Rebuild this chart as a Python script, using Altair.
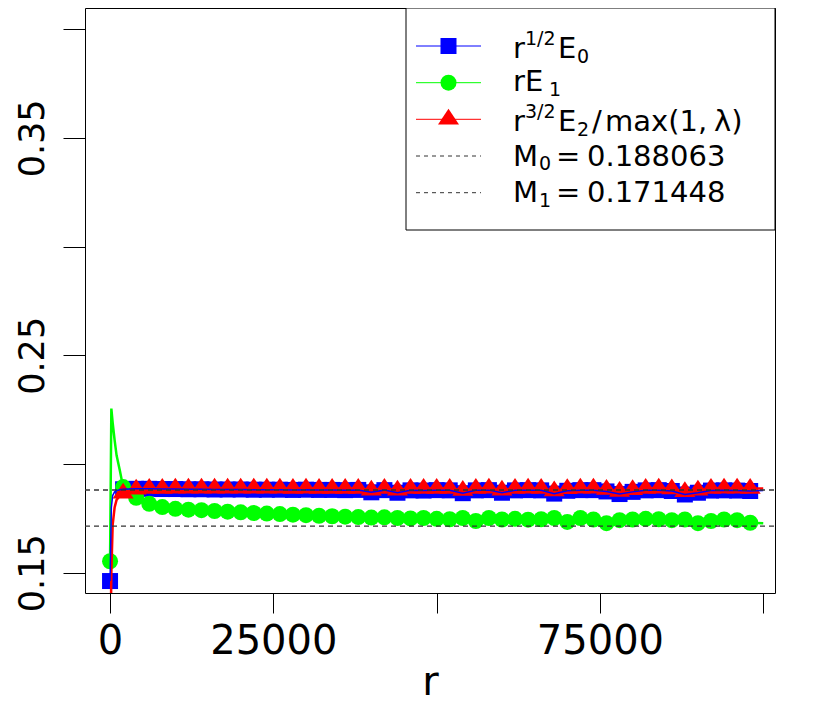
import altair as alt
import pandas as pd

# ---------------- data ----------------
r_early = [0, 200, 400, 700, 1000, 1500]
r_grid = list(range(2000, 100001, 2000))
r_vals = r_early + r_grid

blue_vals = [0.1462, 0.1800, 0.1855, 0.1872, 0.1878, 0.1882,
             0.1884, 0.1886, 0.1886, 0.1885, 0.1885, 0.1884, 0.1884, 0.1883, 0.1883, 0.1883,
             0.1882, 0.1882, 0.1882, 0.1881, 0.1882, 0.1881, 0.1881, 0.1880, 0.1881, 0.1870,
             0.1880, 0.1868, 0.1879, 0.1878, 0.1880, 0.1879, 0.1866, 0.1879, 0.1880, 0.1868,
             0.1879, 0.1880, 0.1879, 0.1864, 0.1877, 0.1880, 0.1880, 0.1874, 0.1862, 0.1872,
             0.1879, 0.1880, 0.1876, 0.1860, 0.1868, 0.1878, 0.1879, 0.1878, 0.1876, 0.1878]

green_vals = [0.1553, 0.2255, 0.2190, 0.2110, 0.2040, 0.1970,
              0.1894, 0.1845, 0.1817, 0.1802, 0.1794, 0.1790, 0.1788, 0.1784, 0.1781, 0.1778,
              0.1775, 0.1772, 0.1770, 0.1767, 0.1765, 0.1762, 0.1760, 0.1758, 0.1756, 0.1754,
              0.1755, 0.1752, 0.1750, 0.1752, 0.1748, 0.1746, 0.1752, 0.1738, 0.1752, 0.1745,
              0.1748, 0.1744, 0.1746, 0.1752, 0.1734, 0.1752, 0.1745, 0.1728, 0.1742, 0.1745,
              0.1748, 0.1746, 0.1742, 0.1745, 0.1728, 0.1738, 0.1745, 0.1742, 0.1730, 0.1728]

red_vals = [0.1000, 0.1500, 0.1720, 0.1800, 0.1835, 0.1855,
            0.1866, 0.1884, 0.1887, 0.1888, 0.1889, 0.1889, 0.1889, 0.1889, 0.1889, 0.1889,
            0.1889, 0.1889, 0.1889, 0.1888, 0.1889, 0.1888, 0.1888, 0.1888, 0.1888, 0.1880,
            0.1888, 0.1879, 0.1888, 0.1887, 0.1888, 0.1888, 0.1878, 0.1888, 0.1889, 0.1879,
            0.1888, 0.1889, 0.1888, 0.1876, 0.1886, 0.1889, 0.1889, 0.1883, 0.1874, 0.1882,
            0.1888, 0.1889, 0.1885, 0.1873, 0.1879, 0.1888, 0.1889, 0.1889, 0.1887, 0.1887]

M_vals = [0.188063, 0.171448]

x_ticks = [0, 25000, 50000, 75000, 100000]
x_shown = ["0", "25000", "75000"]
y_ticks = [0.15, 0.20, 0.25, 0.30, 0.35, 0.40]
y_shown = ["0.15", "0.25", "0.35"]

# ---------------- layout / style ----------------
W, H = 690, 585
OX, OY = 85, 7          # reference plot origin
FONT = "DejaVu Sans"
BLUE, GREEN, RED = "#0000FF", "#00FF00", "#FF0000"
TRI = "M0,-1L1,0.5L-1,0.5Z"
MARK_FILTER = "datum.r % 2000 == 0 && datum.r <= 98000"

x_scale = alt.Scale(domain=[-3834, 101800], nice=False, zero=False)
y_scale = alt.Scale(domain=[0.1407, 0.4097], nice=False, zero=False)

x_axis = alt.Axis(values=x_ticks, format="d",
                  labelExpr="indexof(" + str(x_shown) + ", datum.label) >= 0 ? datum.label : ''",
                  labelFont=FONT, labelFontSize=40, labelColor="black", labelPadding=8,
                  labelOverlap=False, labelFlush=False,
                  tickSize=20, tickColor="black", tickWidth=1, domain=False, grid=False,
                  title="r", titleFont=FONT, titleFontSize=40, titleFontWeight="normal",
                  titleColor="black", titleY=101, titleBaseline="alphabetic")
y_axis = alt.Axis(values=y_ticks, format=".2f",
                  labelExpr="indexof(" + str(y_shown) + ", datum.label) >= 0 ? datum.label : ''",
                  labelFont=FONT, labelFontSize=35, labelColor="black", labelPadding=20,
                  labelAngle=270, labelAlign="center", labelBaseline="alphabetic",
                  labelOverlap=False, labelFlush=False,
                  tickSize=22, tickColor="black", tickWidth=1, domain=False, grid=False,
                  title=None)

def series_df(vals):
    return pd.DataFrame({"r": r_vals, "v": vals})

def enc(chart):
    return chart.encode(
        x=alt.X("r:Q", scale=x_scale, axis=x_axis),
        y=alt.Y("v:Q", scale=y_scale, axis=y_axis),
    )

def markers(vals, shape, size, color):
    c = alt.Chart(series_df(vals)).transform_filter(MARK_FILTER).mark_point(
        shape=shape, size=size, filled=True, color=color, opacity=1, strokeWidth=0, clip=True)
    return enc(c)

def line(vals, color, width):
    c = alt.Chart(series_df(vals)).mark_line(color=color, strokeWidth=width, clip=True)
    return enc(c)

blue_pts = markers(blue_vals, "square", 256, BLUE)
green_pts = markers(green_vals, "circle", 256, GREEN)
red_pts = markers(red_vals, TRI, 441, RED)
blue_line = line(blue_vals, BLUE, 1.5)
green_line = line(green_vals, GREEN, 2.5)
red_line = line(red_vals, RED, 2.5)

m_lines = alt.Chart(pd.DataFrame({"v": M_vals})).mark_rule(
    color="#333333", strokeWidth=1.3, strokeDash=[5, 4]).encode(
    y=alt.Y("v:Q", scale=y_scale, axis=y_axis), x=alt.value(0), x2=alt.value(W))

# ---------------- legend (manual, for plotmath-like text) ----------------
dummy = pd.DataFrame({"a": [0]})

def lx(x):
    return alt.value(x - OX)

def ly(y):
    return alt.value(y - OY)

legend_layers = []
legend_layers.append(
    alt.Chart(dummy).mark_rect(fill="white", stroke="black", strokeWidth=1).encode(
        x=lx(406), x2=lx(775), y=ly(7), y2=ly(229)))

centers = [45, 81.7, 118.3, 155, 191.7]
sym_x0, sym_x1, sym_xc = 416, 481, 448.5
cols = [BLUE, GREEN, RED]
shapes = [("square", 256), ("circle", 256), (TRI, 441)]
for i in range(3):
    legend_layers.append(alt.Chart(dummy).mark_rule(color=cols[i], strokeWidth=1).encode(
        x=lx(sym_x0), x2=lx(sym_x1), y=ly(centers[i])))
    legend_layers.append(alt.Chart(dummy).mark_point(
        shape=shapes[i][0], size=shapes[i][1], filled=True, color=cols[i], opacity=1,
        strokeWidth=0).encode(x=lx(sym_xc), y=ly(centers[i])))
for i in range(3, 5):
    legend_layers.append(alt.Chart(dummy).mark_rule(
        color="#333333", strokeWidth=1, strokeDash=[4, 4]).encode(
        x=lx(sym_x0), x2=lx(sym_x1), y=ly(centers[i])))

BIG, SMALL = 29, 19

def txt(s, x, y, size):
    return alt.Chart(dummy).mark_text(
        text=s, align="left", baseline="alphabetic", font=FONT, fontSize=size,
        color="black").encode(x=lx(x), y=ly(y))

pieces = [
    ("r", 513, 57, BIG), ("1/2", 525, 43.5, SMALL), ("E", 558, 57, BIG), ("0", 577, 62, SMALL),
    ("r", 513, 90, BIG), ("E", 525, 90, BIG), ("1", 549, 94.5, SMALL),
    ("r", 513, 129.5, BIG), ("3/2", 525, 116.5, SMALL), ("E", 558, 129.5, BIG),
    ("2", 577, 134.5, SMALL),
    ("/", 592, 129.5, BIG), ("max(1,", 605, 129.5, BIG), ("λ)", 714, 129.5, BIG),
    ("M", 513, 164.5, BIG), ("0", 539, 169, SMALL), ("=", 556, 164.5, BIG),
    ("0.188063", 587, 164.5, BIG),
    ("M", 513, 201, BIG), ("1", 539, 205.5, SMALL), ("=", 556, 201, BIG),
    ("0.171448", 587, 201, BIG),
]
for s, x, y, size in pieces:
    legend_layers.append(txt(s, x, y, size))

chart = alt.layer(
    blue_pts, green_pts, green_line, red_pts, red_line, blue_line, m_lines,
    *legend_layers
).properties(
    width=W, height=H,
    autosize=alt.AutoSizeParams(type="none"),
    padding={"left": 77, "top": 0, "right": 47, "bottom": 112},
).configure_view(stroke="black", strokeWidth=1)

chart.save("out.html", embed_options={"renderer": "svg", "actions": False})
